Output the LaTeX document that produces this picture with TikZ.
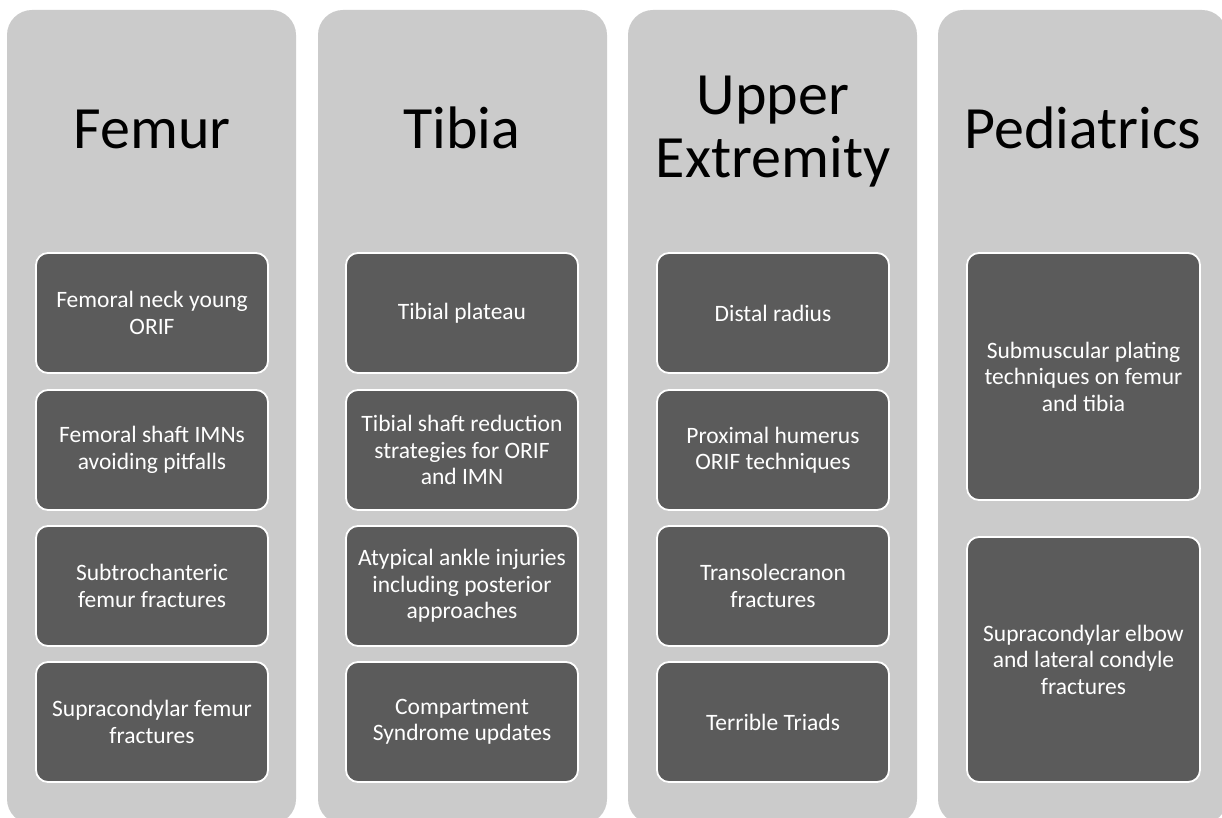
\documentclass[tikz,border=0pt]{standalone}
\usepackage{fontspec}
\setmainfont{Carlito}
\definecolor{colbg}{HTML}{CBCBCB}
\definecolor{boxbg}{HTML}{5B5B5B}
\begin{document}
\begin{tikzpicture}[x=1pt,y=-1pt,
  column/.style={fill=colbg, draw=none, rounded corners=25pt},
  item/.style={fill=boxbg, draw=white, line width=1.8pt, rounded corners=12pt,
    minimum width=232pt, align=center, text=white,
    font=\fontsize{23.5}{26.5}\selectfont, inner sep=0pt},
  title/.style={font=\fontsize{60}{63}\selectfont, text=black, anchor=base, inner sep=0pt, align=center}]
\useasboundingbox (0,0) rectangle (1222,818);
\clip (0,0) rectangle (1222,818);
\fill[white] (0,0) rectangle (1222,818);
% columns
\foreach \x/\n in {7/c1,318/c2,628/c3,938/c4}{
  \path[column] (\x,10) rectangle ++(289,814);
}
% titles
\node[title] (t1) at (152,149) {Femur};
\node[title] (t2) at (462,149) {Tibia};
\node[title] (t3a) at (773,115) {Upper};
\node[title] (t3b) at (773,178) {Extremity};
\node[title] (t4) at (1083,149) {Pediatrics};
% column 1
\node[item, minimum height=120pt] (f1) at (152,313) {Femoral neck young\\ORIF};
\node[item, minimum height=120pt] (f2) at (152,450) {Femoral shaft IMNs\\avoiding pitfalls};
\node[item, minimum height=120pt] (f3) at (152,586) {Subtrochanteric\\femur fractures};
\node[item, minimum height=120pt] (f4) at (152,722) {Supracondylar femur\\fractures};
% column 2
\node[item, minimum height=120pt] (b1) at (462,313) {Tibial plateau};
\node[item, minimum height=120pt] (b2) at (462,450) {Tibial shaft reduction\\strategies for ORIF\\and IMN};
\node[item, minimum height=120pt] (b3) at (462,586) {Atypical ankle injuries\\including posterior\\approaches};
\node[item, minimum height=120pt] (b4) at (462,722) {Compartment\\Syndrome updates};
% column 3
\node[item, minimum height=120pt] (u1) at (773,313) {Distal radius};
\node[item, minimum height=120pt] (u2) at (773,450) {Proximal humerus\\ORIF techniques};
\node[item, minimum height=120pt] (u3) at (773,586) {Transolecranon\\fractures};
\node[item, minimum height=120pt] (u4) at (773,722) {Terrible Triads};
% column 4
\node[item, minimum width=233pt, minimum height=247pt] (p1) at (1083.5,376.5) {Submuscular plating\\techniques on femur\\and tibia};
\node[item, minimum width=233pt, minimum height=245pt] (p2) at (1083.5,659.5) {Supracondylar elbow\\and lateral condyle\\fractures};
\end{tikzpicture}
\end{document}
